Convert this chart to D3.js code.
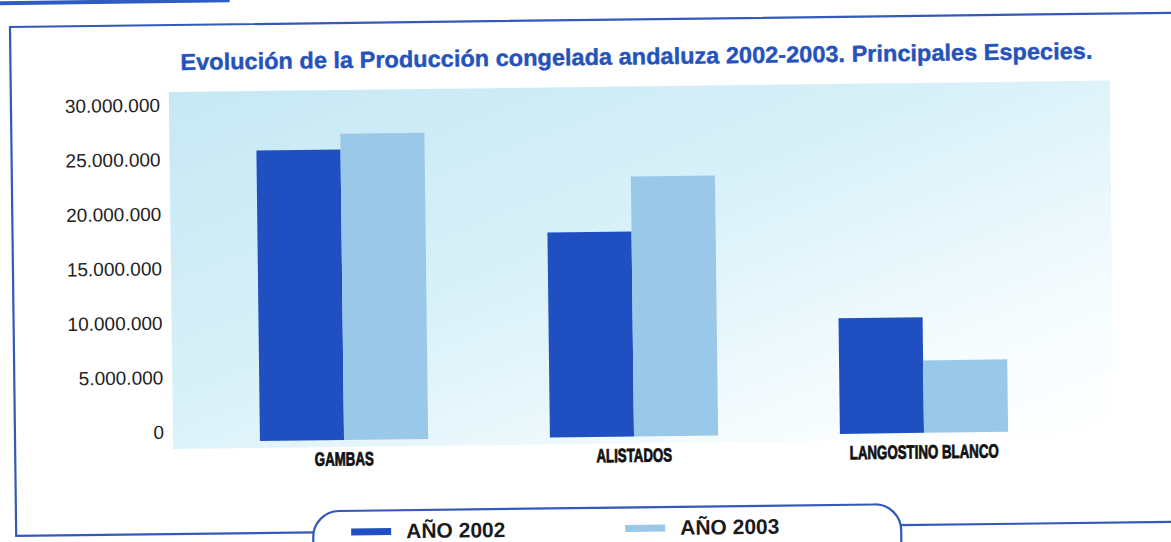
<!DOCTYPE html>
<html>
<head>
<meta charset="utf-8">
<script src="https://cdn.jsdelivr.net/npm/d3@7"></script>
<style>
  html, body { margin: 0; padding: 0; background: #fff; overflow: hidden; }
  svg { display: block; }
</style>
</head>
<body>
<div id="chart"></div>
<script>
// chart data
const categories = ["GAMBAS", "ALISTADOS", "LANGOSTINO BLANCO"]
const seriesNames = ["AÑO 2002", "AÑO 2003"]
const values2002 = [26650000, 18800000, 10600000]
const values2003 = [28100000, 23850000, 6650000]
const yTicks = [0, 5000000, 10000000, 15000000, 20000000, 25000000, 30000000]
const title = "Evolución de la Producción congelada andaluza 2002-2003. Principales Especies."

// layout
const width = 1171
const height = 542
const lineBlue = "#3559b8"
const colors = ["#1f4fc1", "#99c8e8"]

const esLocale = d3.formatLocale({ decimal: ",", thousands: ".", grouping: [3], currency: ["", "€"] })
const tickFormat = esLocale.format(",d")

const svg = d3.select("#chart")
  .append("svg")
  .attr("width", width)
  .attr("height", height)

const defs = svg.append("defs")
const grad = defs.append("linearGradient")
  .attr("id", "bg")
  .attr("x1", 0).attr("y1", 0)
  .attr("x2", 1).attr("y2", 1)
grad.append("stop").attr("offset", 0).attr("stop-color", "#c6e8f4")
grad.append("stop").attr("offset", 0.45).attr("stop-color", "#d9f1f9")
grad.append("stop").attr("offset", 0.8).attr("stop-color", "#f6fcfe")
grad.append("stop").attr("offset", 1).attr("stop-color", "#ffffff")

// the scanned page is slightly tilted
const g = svg.append("g").attr("transform", "rotate(-0.7, 585, 271)")

// top-left accent line
g.append("rect")
  .attr("x", -20).attr("y", -6)
  .attr("width", 253).attr("height", 4)
  .attr("fill", "#2f5cc4")

// frame
g.append("path")
  .attr("d", "M1200,20 L13,20 L13,529 L312,529")
  .attr("fill", "none")
  .attr("stroke", lineBlue)
  .attr("stroke-width", 2.2)
g.append("path")
  .attr("d", "M896,529 L1200,529")
  .attr("fill", "none")
  .attr("stroke", lineBlue)
  .attr("stroke-width", 2.2)

// legend box
g.append("rect")
  .attr("x", 310).attr("y", 508)
  .attr("width", 588).attr("height", 70)
  .attr("rx", 26).attr("ry", 26)
  .attr("fill", "#fff")
  .attr("stroke", lineBlue)
  .attr("stroke-width", 2.2)

// title
g.append("text")
  .attr("x", 183).attr("y", 65)
  .attr("textLength", 912)
  .attr("lengthAdjust", "spacingAndGlyphs")
  .attr("font-family", "Liberation Sans, Arial, sans-serif")
  .attr("font-weight", "bold")
  .attr("font-size", 23)
  .attr("fill", "#2552bb")
  .attr("stroke", "#2552bb")
  .attr("stroke-width", 0.4)
  .text(title)

// plot background
g.append("rect")
  .attr("x", 171).attr("y", 87)
  .attr("width", 941).attr("height", 357)
  .attr("fill", "url(#bg)")

// scales
const xScale = d3.scaleBand()
  .domain(categories)
  .range([197, 1067])
  .paddingInner(0.42)
  .paddingOuter(0.21)

const xSub = d3.scaleBand()
  .domain(seriesNames)
  .range([0, xScale.bandwidth()])

const yScale = d3.scaleLinear()
  .domain([0, 30000000])
  .range([437, 110])

const rows = categories.map((c, i) => ({ cat: c, vals: [values2002[i], values2003[i]] }))

// bars
const groups = g.selectAll(".grp")
  .data(rows)
  .enter()
  .append("g")
  .attr("class", "grp")
  .attr("transform", d => "translate(" + xScale(d.cat) + ",0)")

groups.selectAll("rect")
  .data(d => d.vals.map((v, j) => ({ name: seriesNames[j], v: v, j: j })))
  .enter()
  .append("rect")
  .attr("x", d => xSub(d.name))
  .attr("width", xSub.bandwidth())
  .attr("y", d => yScale(d.v))
  .attr("height", d => yScale(0) - yScale(d.v))
  .attr("fill", d => colors[d.j])

// y axis
const yAxis = d3.axisLeft(yScale).tickValues(yTicks).tickFormat(tickFormat).tickSize(0).tickPadding(9)
const yAxisG = g.append("g")
  .attr("transform", "translate(171,0)")
  .call(yAxis)
yAxisG.select(".domain").remove()
yAxisG.selectAll("text")
  .attr("y", -10)
  .attr("font-family", "Liberation Sans, Arial, sans-serif")
  .attr("font-size", 19)
  .attr("fill", "#222")

// x axis
const xAxis = d3.axisBottom(xScale).tickSize(0)
const xAxisG = g.append("g")
  .attr("transform", "translate(0,437)")
  .call(xAxis)
xAxisG.select(".domain").remove()
xAxisG.selectAll("text")
  .attr("y", 25.5)
  .attr("dy", 0)
  .attr("transform", "scale(0.7,1)")
  .attr("font-family", "Liberation Sans, Arial, sans-serif")
  .attr("font-weight", "bold")
  .attr("font-size", 19)
  .attr("fill", "#111")
  .attr("stroke", "#111")
  .attr("stroke-width", 0.8)

// legend
const legendX = [348, 622]
const legend = g.selectAll(".leg")
  .data(seriesNames)
  .enter()
  .append("g")
  .attr("class", "leg")
  .attr("transform", (d, i) => "translate(" + legendX[i] + ",0)")

legend.append("rect")
  .attr("x", 0).attr("y", 525.5)
  .attr("width", 40).attr("height", 7)
  .attr("fill", (d, i) => colors[i])

legend.append("text")
  .attr("x", 55).attr("y", 536)
  .attr("font-family", "Liberation Sans, Arial, sans-serif")
  .attr("font-weight", "bold")
  .attr("font-size", 21)
  .attr("fill", "#1a1a1a")
  .text(d => d)
</script>
</body>
</html>
